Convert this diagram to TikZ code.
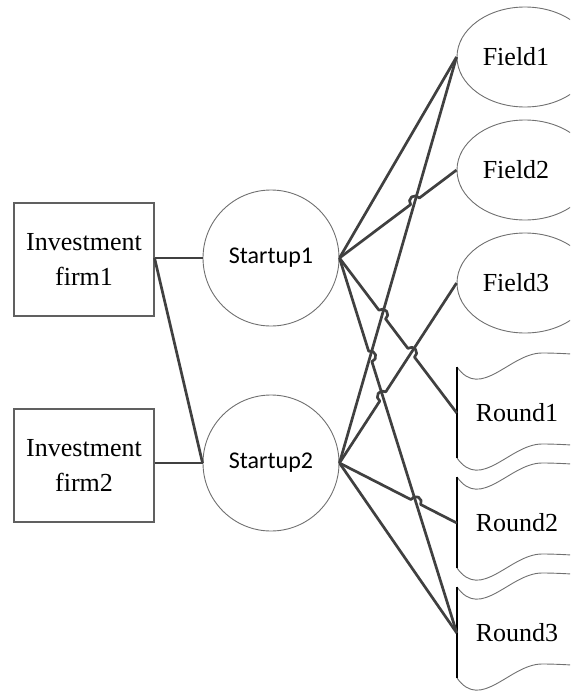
\documentclass[tikz,border=0pt]{standalone}
\usepackage{fontspec}
\setmainfont{Liberation Serif}
\newfontfamily\calibri{Carlito}
\usetikzlibrary{shapes.geometric,calc}
\definecolor{linkgray}{HTML}{404040}
\definecolor{boxgray}{HTML}{606060}
\definecolor{shapegray}{HTML}{707070}

% outline of a torn-tape box around a node of 120 x 120
\newcommand\tapeoutline[1]{%
  \draw[tapewave] ($(#1.center)+(-60,46)$) .. controls +(24,-34) and +(-32,0) .. ($(#1.center)+(25,60)$)
                  .. controls +(15,0) and +(-15,1) .. ($(#1.center)+(70,58)$);
  \draw[tapewave] ($(#1.center)+(-60,-45)$) .. controls +(24,-34) and +(-32,0) .. ($(#1.center)+(25,-31)$)
                  .. controls +(15,0) and +(-15,1) .. ($(#1.center)+(70,-33)$);
  \draw[tapeedge] ($(#1.center)+(-60,46)$) -- ($(#1.center)+(-60,-45)$);
}

\begin{document}
\begin{tikzpicture}[x=1pt,y=1pt,
  firmbox/.style={draw=boxgray, line width=1.1pt, minimum width=140pt, minimum height=113pt,
    align=center, inner sep=0pt, font=\fontsize{26}{35}\selectfont},
  startup/.style={circle, draw=shapegray, line width=0.9pt, minimum size=136pt, inner sep=0pt,
    font=\calibri\fontsize{24}{28}\selectfont},
  field/.style={ellipse, draw=shapegray, line width=0.9pt, minimum width=136pt, minimum height=100pt,
    inner sep=0pt, font=\fontsize{26}{30}\selectfont},
  roundbox/.style={rectangle, minimum width=120pt, minimum height=120pt, inner sep=0pt,
    font=\fontsize{26}{30}\selectfont},
  tapewave/.style={draw=shapegray, line width=0.9pt},
  tapeedge/.style={draw=black, line width=1.3pt},
  link/.style={draw=linkgray, line width=2.7pt, line join=round},
]
\useasboundingbox (0,0) rectangle (570,-693);
\clip (0,0) rectangle (570,-693);

% investors
\node[firmbox] (i1) at (84,-259.5) {Investment\\firm1};
\node[firmbox] (i2) at (84,-465.5) {Investment\\firm2};

% startups
\node[startup] (s1) at (271,-258) {Startup1};
\node[startup] (s2) at (271,-463) {Startup2};

% fields (label sits left of the ellipse centre)
\node[field] (f1) at (525,-57)  {Field1\rule{18pt}{0pt}};
\node[field] (f2) at (525,-170) {Field2\rule{18pt}{0pt}};
\node[field] (f3) at (525,-283) {Field3\rule{18pt}{0pt}};

% funding rounds
\node[roundbox] (r1) at (517,-413) {Round1};
\node[roundbox] (r2) at (517,-523) {Round2};
\node[roundbox] (r3) at (517,-633) {Round3};
\tapeoutline{r1}
\tapeoutline{r2}
\tapeoutline{r3}

% end points of the links
\coordinate (S1) at (s1.east);
\coordinate (S2) at (s2.east);
\coordinate (F1) at (f1.west);
\coordinate (F2) at (f2.west);
\coordinate (F3) at (f3.west);
\coordinate (R1) at (r1.west);
\coordinate (R2) at (r2.west);
\coordinate (R3) at (r3.west);
\coordinate (I1) at (s1.west -| i1.east);
\coordinate (I2) at (s2.west -| i2.east);

% crossings where one link jumps over another
\coordinate (xa) at (intersection of S1--F2 and S2--F1);
\coordinate (xb) at (intersection of S1--R1 and S2--F1);
\coordinate (xc) at (intersection of S1--R1 and S2--F3);
\coordinate (xd) at (intersection of S1--R3 and S2--F1);
\coordinate (xe) at (intersection of S2--F3 and S1--R3);
\coordinate (xf) at (intersection of S2--R2 and S1--R3);

% investor links
\draw[link] (I1) -- (s1.west);
\draw[link] (I1) -- (s2.west);
\draw[link] (I2) -- (s2.west);

% straight links
\draw[link] (S1) -- (F1);
\draw[link] (S2) -- (F1);
\draw[link] (S2) -- (R3);

% links with jumps
\def\hr{5.5pt}
\draw[link] let \p1=($(F2)-(S1)$), \n1={atan2(\y1,\x1)} in
  (S1) -- ($(xa)!\hr!(S1)$) arc[start angle=\n1+180, end angle=\n1, radius=\hr] -- (F2);
\draw[link] let \p1=($(R1)-(S1)$), \n1={atan2(\y1,\x1)} in
  (S1) -- ($(xb)!\hr!(S1)$) arc[start angle=\n1+180, end angle=\n1, radius=\hr]
       -- ($(xc)!\hr!(S1)$) arc[start angle=\n1+180, end angle=\n1, radius=\hr] -- (R1);
\draw[link] let \p1=($(R3)-(S1)$), \n1={atan2(\y1,\x1)} in
  (S1) -- ($(xd)!\hr!(S1)$) arc[start angle=\n1+180, end angle=\n1, radius=\hr] -- (R3);
\draw[link] let \p1=($(F3)-(S2)$), \n1={atan2(\y1,\x1)} in
  (S2) -- ($(xe)!\hr!(S2)$) arc[start angle=\n1+180, end angle=\n1, radius=\hr] -- (F3);
\draw[link] let \p1=($(R2)-(S2)$), \n1={atan2(\y1,\x1)} in
  (S2) -- ($(xf)!\hr!(S2)$) arc[start angle=\n1+180, end angle=\n1, radius=\hr] -- (R2);
\end{tikzpicture}
\end{document}
